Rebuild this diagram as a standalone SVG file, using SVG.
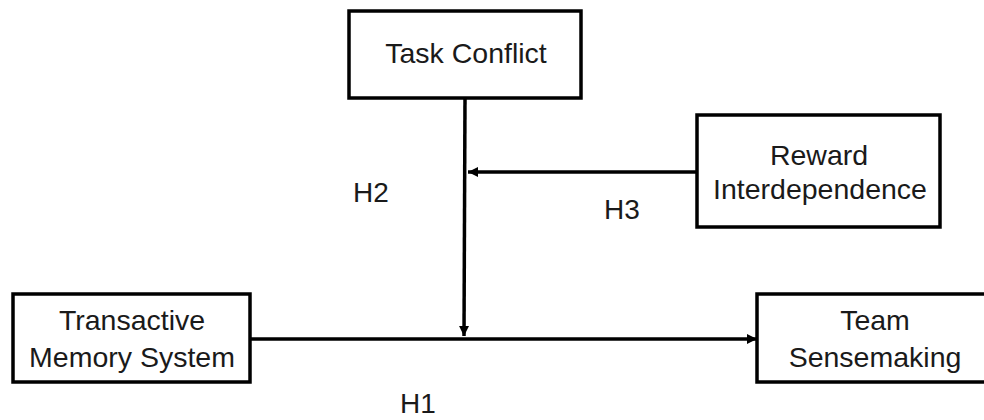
<svg xmlns="http://www.w3.org/2000/svg" width="984" height="420" viewBox="0 0 984 420">
<style>
.box{fill:#fff;stroke:#000;stroke-width:3.5}
.t{font-family:"Liberation Sans",Arial,sans-serif;font-size:28.5px;fill:#1a1a1a;text-anchor:middle}
.l{font-family:"Liberation Sans",Arial,sans-serif;font-size:28px;fill:#1a1a1a}
.c{stroke:#000;stroke-width:3.5;fill:none}
</style>
<defs>
<marker id="ah" markerWidth="10" markerHeight="10" refX="10" refY="5" orient="auto" markerUnits="userSpaceOnUse">
<path d="M0,0 L10,5 L0,10 Z" fill="#000"/>
</marker>
</defs>
<rect width="984" height="420" fill="#fff"/>
<g id="connectors">
<line class="c" x1="465" y1="98" x2="464" y2="336" marker-end="url(#ah)"/>
<line class="c" x1="697" y1="172" x2="468" y2="172" marker-end="url(#ah)"/>
<line class="c" x1="250" y1="339" x2="757" y2="339" marker-end="url(#ah)"/>
</g>
<g id="task-conflict">
<rect class="box" x="349" y="11" width="232" height="87"/>
<text class="t" x="466" y="63">Task Conflict</text>
</g>
<g id="reward-interdependence">
<rect class="box" x="697" y="115" width="243" height="112"/>
<text class="t" x="819" y="165">Reward</text>
<text class="t" x="820" y="199">Interdependence</text>
</g>
<g id="transactive-memory-system">
<rect class="box" x="13" y="294" width="237" height="88"/>
<text class="t" x="132" y="330">Transactive</text>
<text class="t" x="132" y="367">Memory System</text>
</g>
<g id="team-sensemaking">
<rect class="box" x="757" y="294" width="240" height="88"/>
<text class="t" x="875" y="330">Team</text>
<text class="t" x="875" y="367">Sensemaking</text>
</g>
<g id="labels">
<text class="l" x="353" y="202">H2</text>
<text class="l" x="604" y="219">H3</text>
<text class="l" x="400" y="413">H1</text>
</g>
</svg>
